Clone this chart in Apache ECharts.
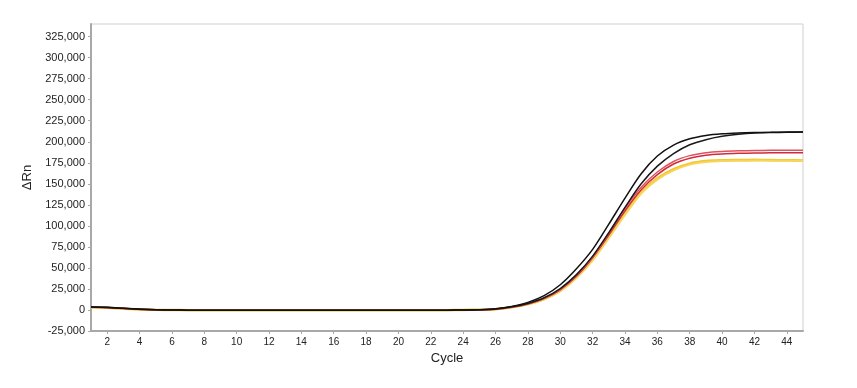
<!DOCTYPE html>
<html>
<head>
<meta charset="utf-8">
<script src="https://cdn.jsdelivr.net/npm/echarts@6/dist/echarts.min.js"></script>
<style>
html,body{margin:0;padding:0;background:#fff;}
#chart{width:857px;height:388px;}
</style>
</head>
<body>
<div id="chart"></div>
<script>
const cycles = [1,2,3,4,5,6,7,8,9,10,11,12,13,14,15,16,17,18,19,20,21,22,23,24,25,26,27,28,29,30,31,32,33,34,35,36,37,38,39,40,41,42,43,44,45];
const xTickLabels = [2,4,6,8,10,12,14,16,18,20,22,24,26,28,30,32,34,36,38,40,42,44];
const yTickLabels = [-25000,0,25000,50000,75000,100000,125000,150000,175000,200000,225000,250000,275000,300000,325000];

const black1 = [3600,3100,2100,1100,300,0,-200,-300,-300,-300,-300,-300,-300,-300,-300,-300,-300,-300,-300,-400,-400,-300,-200,0,300,1400,4200,9000,17000,30000,49000,72000,102000,133000,162000,183000,196000,203500,207500,209500,210500,211000,211200,211500,211500];
const black2 = [3400,2900,2000,1000,300,0,-200,-300,-300,-300,-300,-300,-300,-300,-300,-300,-300,-300,-300,-400,-400,-300,-200,0,300,1200,3700,7800,14500,25500,42000,64000,92000,122000,150000,171000,186000,196500,202500,206500,209000,210500,211000,211200,211500];
const red1 = [3800,3000,1800,800,200,-100,-200,-300,-300,-300,-300,-300,-300,-300,-300,-300,-300,-300,-300,-400,-400,-300,-200,0,300,1100,3500,7500,14000,24500,41000,63000,91000,121000,146000,164000,176500,183500,187000,188500,189200,189500,189800,190000,190000];
const red2 = [3300,2700,1700,700,200,-100,-200,-300,-300,-300,-300,-300,-300,-300,-300,-300,-300,-300,-300,-400,-400,-300,-200,0,300,1000,3300,7200,13500,24000,40000,62000,89000,118000,143000,161000,173500,180500,184000,185500,186200,186500,186800,187000,187000];
const yellow1 = [3200,2600,1600,700,200,-100,-200,-300,-300,-300,-300,-300,-300,-300,-300,-300,-300,-300,-300,-400,-400,-300,-200,0,300,1000,3200,7000,13000,23000,39000,60000,87000,115000,140000,156500,167500,174000,177000,178000,178300,178500,178300,178000,177800];
const yellow2 = [3100,2500,1500,600,100,-100,-200,-300,-300,-300,-300,-300,-300,-300,-300,-300,-300,-300,-300,-400,-400,-300,-200,0,300,1000,3100,6800,12800,22500,38000,59000,85500,113000,138500,155000,166000,172800,175800,177000,177400,177600,177500,177300,177000];

const seriesDefs = [
  {name:'Y1', data:yellow1, color:'#f3c530', width:2.5},
  {name:'Y2', data:yellow2, color:'#f6d55a', width:2},
  {name:'R2', data:red2, color:'#cf2b3a', width:1.5},
  {name:'R1', data:red1, color:'#e0505e', width:1.5},
  {name:'B2', data:black2, color:'#1a1a1a', width:1.5},
  {name:'B1', data:black1, color:'#111111', width:1.5}
];

function fmt(v){
  const s = Math.abs(v).toString().replace(/\B(?=(\d{3})+(?!\d))/g, ',');
  return (v < 0 ? '-' : '') + s;
}

const chart = echarts.init(document.getElementById('chart'), null, {renderer:'canvas'});
chart.setOption({
  animation:false,
  backgroundColor:'#fff',
  grid:{left:91, right:54, top:24, bottom:57, show:true, borderColor:'#cfcfcf', borderWidth:1},
  xAxis:{
    type:'value', min:1, max:45,
    name:'Cycle', nameLocation:'middle', nameGap:18,
    nameTextStyle:{fontFamily:'Liberation Sans', fontSize:13, color:'#222'},
    axisLine:{show:true, onZero:false, lineStyle:{color:'#a8a8a8', width:2}},
    axisTick:{show:true, length:3, lineStyle:{color:'#a8a8a8'}, customValues:xTickLabels},
    axisLabel:{fontFamily:'Liberation Sans', fontSize:10, color:'#222', margin:6, customValues:xTickLabels},
    splitLine:{show:false}
  },
  yAxis:{
    type:'value', min:-25000, max:340000,
    name:'ΔRn', nameLocation:'middle', nameGap:54, nameRotate:90,
    nameTextStyle:{fontFamily:'Liberation Sans', fontSize:13, color:'#222'},
    axisLine:{show:true, onZero:false, lineStyle:{color:'#a8a8a8', width:2}},
    axisTick:{show:true, length:3, lineStyle:{color:'#a8a8a8'}, customValues:yTickLabels},
    axisLabel:{fontFamily:'Liberation Sans', fontSize:11, color:'#222', margin:6, customValues:yTickLabels, formatter:fmt},
    splitLine:{show:false}
  },
  series: seriesDefs.map(s => ({
    name:s.name, type:'line', showSymbol:false, smooth:0.3,
    data: cycles.map((c,i) => [c, s.data[i]]),
    lineStyle:{color:s.color, width:s.width},
    itemStyle:{color:s.color}
  }))
});
</script>
</body>
</html>
